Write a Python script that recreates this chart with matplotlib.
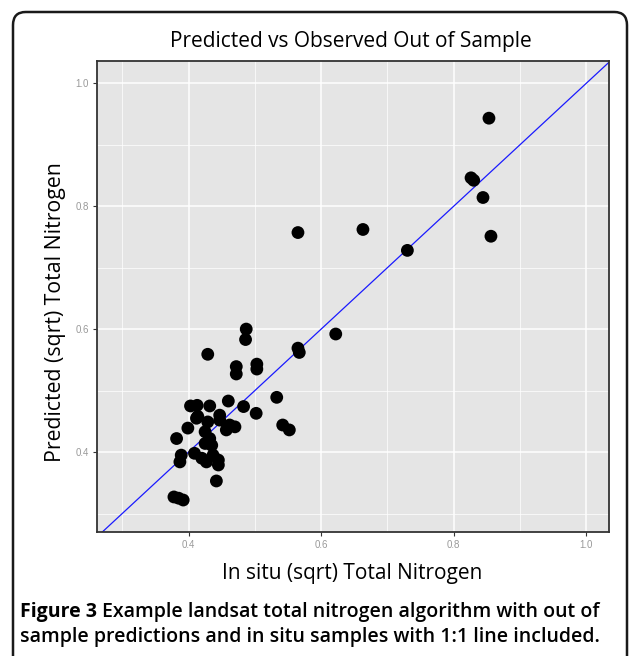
import matplotlib.pyplot as plt
from matplotlib.patches import FancyBboxPatch

# Observed (x) vs predicted (y).
observed = [0.565, 0.663, 0.730, 0.853, 0.826, 0.830, 0.844, 0.856,
            0.487, 0.486, 0.429, 0.472, 0.472, 0.503, 0.503, 0.565, 0.567, 0.622,
            0.533, 0.460, 0.483, 0.502, 0.432, 0.403, 0.413, 0.542, 0.552,
            0.412, 0.414, 0.429, 0.447, 0.447, 0.462, 0.470, 0.457, 0.399, 0.382,
            0.425, 0.432, 0.425, 0.435, 0.389, 0.387, 0.409, 0.420, 0.427, 0.437,
            0.445, 0.445, 0.442, 0.378, 0.392, 0.385]
predicted = [0.757, 0.762, 0.728, 0.943, 0.846, 0.842, 0.814, 0.751,
             0.600, 0.583, 0.559, 0.539, 0.527, 0.543, 0.535, 0.569, 0.562, 0.592,
             0.489, 0.483, 0.474, 0.463, 0.475, 0.475, 0.476, 0.444, 0.436,
             0.455, 0.458, 0.449, 0.452, 0.460, 0.444, 0.441, 0.436, 0.439, 0.422,
             0.433, 0.422, 0.414, 0.411, 0.395, 0.384, 0.398, 0.390, 0.384, 0.395,
             0.387, 0.379, 0.353, 0.327, 0.322, 0.325]

major_ticks = [0.4, 0.6, 0.8, 1.0]
minor_ticks = [0.3, 0.5, 0.7, 0.9]
tick_labels = ["0.4", "0.6", "0.8", "1.0"]

xlim = (0.262, 1.034)
ylim = (0.270, 1.036)

W, H = 633, 656
fig = plt.figure(figsize=(W / 100, H / 100), dpi=100)

# outer rounded frame (open at the bottom, like the cropped journal page)
frame = FancyBboxPatch((13 / W, -0.05), (627 - 13) / W, 1.05 - 12 / H,
                       boxstyle="round,pad=0,rounding_size=0.02",
                       transform=fig.transFigure, fill=False,
                       edgecolor="#1a1a1a", linewidth=1.8)
fig.patches.append(frame)

ax = fig.add_axes([97 / W, 1 - 532 / H, (609 - 97) / W, (532 - 61) / H])
ax.set_facecolor("#E5E5E5")

ax.set_xticks(major_ticks)
ax.set_yticks(major_ticks)
ax.set_xticks(minor_ticks, minor=True)
ax.set_yticks(minor_ticks, minor=True)
ax.set_xticklabels(tick_labels)
ax.set_yticklabels(tick_labels)
ax.grid(which="major", color="white", linewidth=1.1)
ax.grid(which="minor", color="white", linewidth=0.5)
ax.set_axisbelow(True)
ax.tick_params(which="major", length=3, width=0.8, color="#333333",
               labelsize=7, labelcolor="#999999", pad=3)
ax.tick_params(which="minor", length=0)
for lab in ax.get_xticklabels() + ax.get_yticklabels():
    lab.set_family("Liberation Sans")
for sp in ax.spines.values():
    sp.set_color("#333333")
    sp.set_linewidth(1.3)

ax.set_xlim(*xlim)
ax.set_ylim(*ylim)

# 1:1 line
ax.plot([0, 1.1], [0, 1.1], color="#1a1aff", linewidth=0.9, zorder=2)
ax.scatter(observed, predicted, s=85, color="black", edgecolors="none", zorder=3)

fig.text(351 / W, 1 - 41 / H, "Predicted vs Observed Out of Sample",
         family="Open Sans", fontsize=15, ha="center", va="center")
fig.text(352 / W, 1 - 574 / H, "In situ (sqrt) Total Nitrogen",
         family="Open Sans", fontsize=15, ha="center", va="center")
fig.text(55 / W, 1 - 312 / H, "Predicted (sqrt) Total Nitrogen",
         family="Open Sans", fontsize=15.3, ha="center", va="center",
         rotation=90)

cap1 = fig.text(20 / W, 1 - 612 / H, "Figure 3", family="Open Sans",
                fontsize=14, weight="bold", ha="left", va="center")
fig.canvas.draw()
bb = cap1.get_window_extent()
fig.text((bb.x1 + 5) / W, 1 - 612 / H,
         "Example landsat total nitrogen algorithm with out of",
         family="Open Sans", fontsize=14, weight="semibold",
         ha="left", va="center")
fig.text(20 / W, 1 - 637 / H,
         "sample predictions and in situ samples with 1:1 line included.",
         family="Open Sans", fontsize=14, weight="semibold",
         ha="left", va="center")

fig.savefig("out.png", dpi=100)
